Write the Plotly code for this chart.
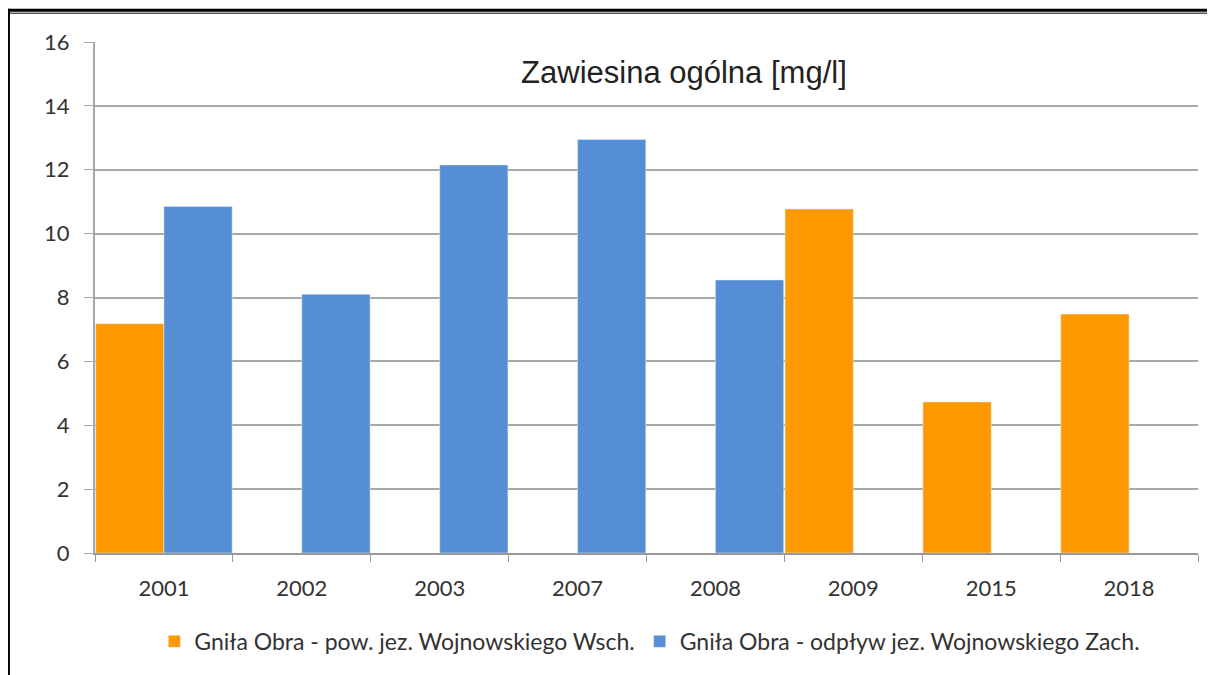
import plotly.graph_objects as go

years = ["2001", "2002", "2003", "2007", "2008", "2009", "2015", "2018"]
wsch = [7.18, None, None, None, None, 10.77, 4.73, 7.48]
zach = [10.85, 8.1, 12.15, 12.95, 8.55, None, None, None]

name_wsch = "Gniła Obra - pow. jez. Wojnowskiego Wsch."
name_zach = "Gniła Obra - odpływ jez. Wojnowskiego Zach."

fig = go.Figure()
fig.add_trace(go.Bar(x=years, y=wsch, name=name_wsch, marker_color="#FF9900"))
fig.add_trace(go.Bar(x=years, y=zach, name=name_zach, marker_color="#558ED5"))

# page body has an 8px margin, so margins are shifted to compensate
fig.update_layout(
    width=1207, height=667,
    barmode="group", bargap=0.01, bargroupgap=0,
    paper_bgcolor="white", plot_bgcolor="white",
    margin=dict(l=87, r=17, t=34, b=117),
    font=dict(family="Lato, Open Sans, sans-serif", size=22, color="#333333"),
    title=dict(text="Zawiesina ogólna [mg/l]", x=0.56, xanchor="center",
               y=0.904, yanchor="middle",
               font=dict(family="Liberation Sans, Arial", size=31, color="#222222")),
    legend=dict(orientation="h", x=0.503, xanchor="center", y=-0.173, yanchor="middle",
                font=dict(size=23, color="#333333"), itemwidth=30),
    showlegend=True,
)
fig.update_xaxes(type="category", showgrid=False, ticks="outside", tickson="boundaries",
                 ticklen=7, tickcolor="#999999", showline=True, linecolor="#999999",
                 linewidth=2, ticklabelstandoff=15)
fig.update_yaxes(range=[0, 16], dtick=2, showgrid=True, gridcolor="#a8a8a8", gridwidth=2,
                 ticks="outside", ticklen=9, tickcolor="#a8a8a8", showline=True,
                 linecolor="#a8a8a8", linewidth=2, zeroline=False, ticklabelstandoff=10)

# page frame
fig.add_shape(type="line", xref="paper", yref="paper", x0=-0.079, x1=1.0154, y0=1.0623, y1=1.0623,
              line=dict(color="black", width=3))
fig.add_shape(type="line", xref="paper", yref="paper", x0=-0.079, x1=1.0154, y0=1.0564, y1=1.0564,
              line=dict(color="black", width=1))
fig.add_shape(type="line", xref="paper", yref="paper", x0=-0.0785, x1=-0.0785, y0=-0.3, y1=1.065,
              line=dict(color="black", width=3))

fig.write_html("out.html")
